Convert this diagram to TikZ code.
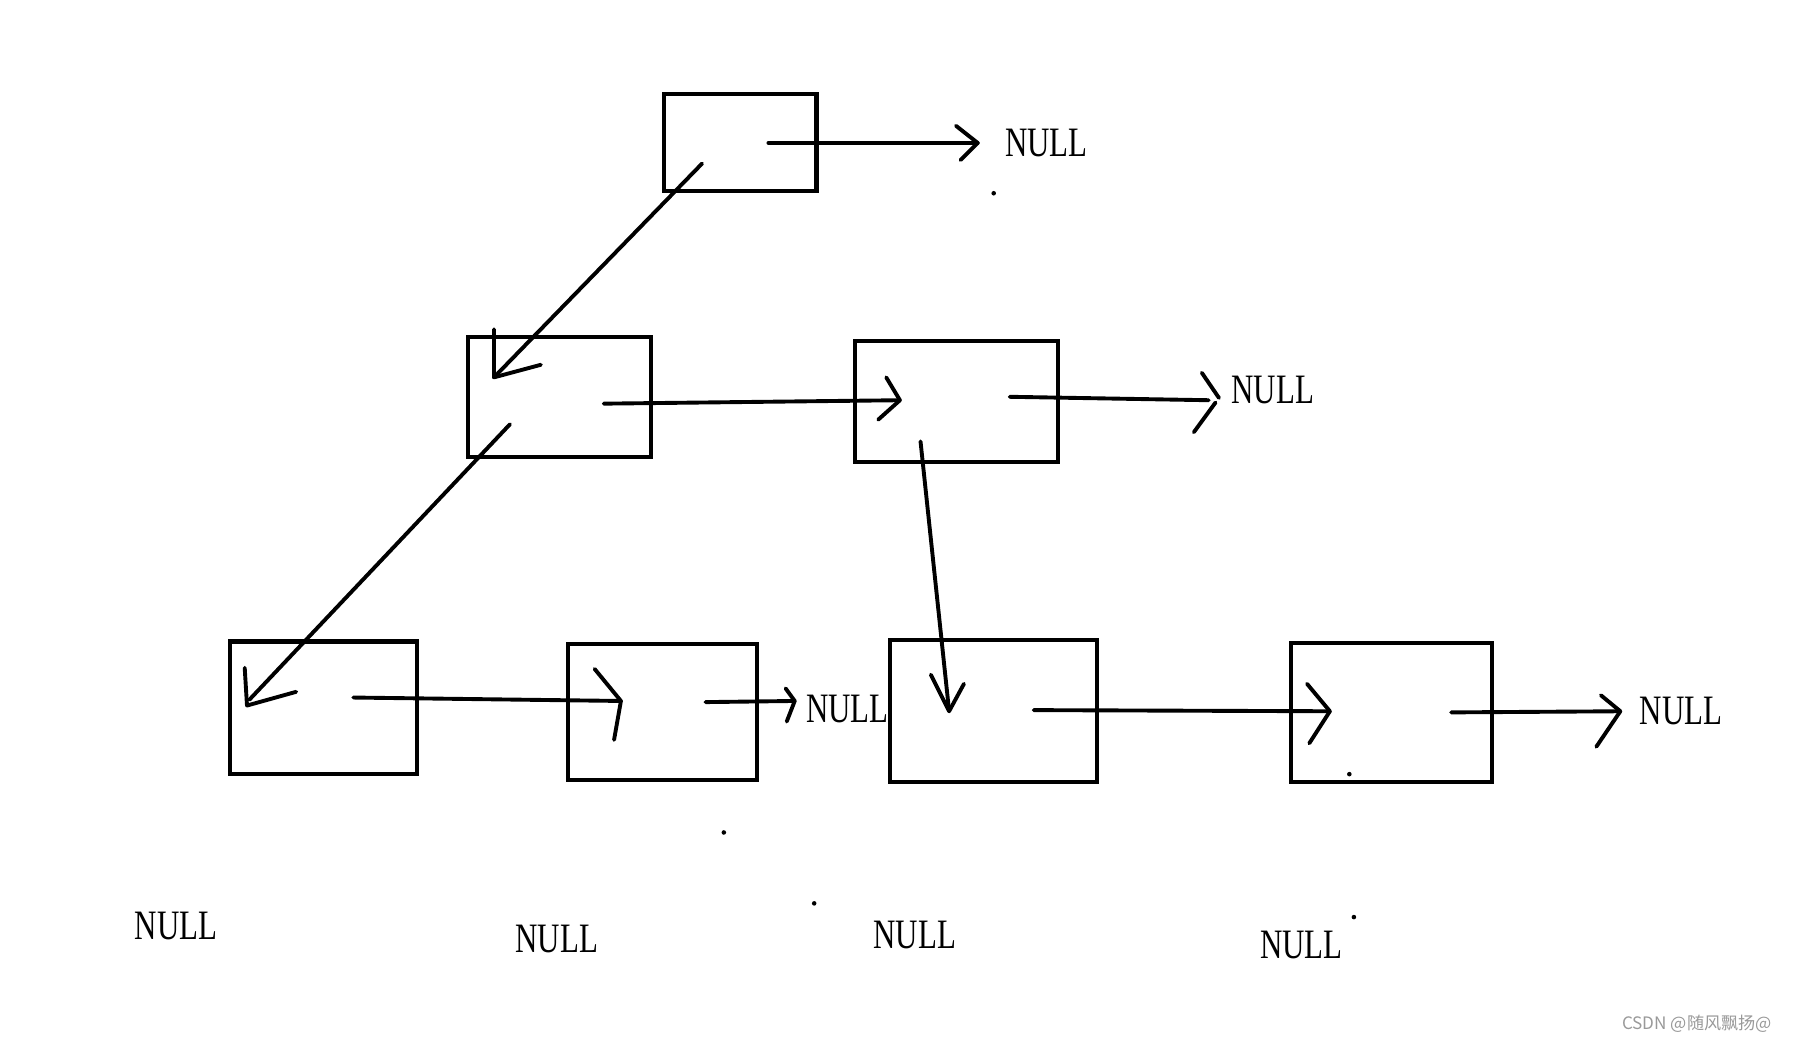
\documentclass[tikz,border=0pt]{standalone}
\usepackage{fontspec}
\usepackage{graphicx}
\setmainfont{Liberation Serif}
\newfontfamily\cjkfont{Noto Sans CJK SC}
\begin{document}
\begin{tikzpicture}[x=1pt,y=-1pt,
  box/.style={draw,line width=3.6pt,rectangle,inner sep=0pt},
  link/.style={line width=3.4pt,line cap=round,line join=round},
  nulltext/.style={inner sep=0pt,font=\fontsize{36.6}{40}\selectfont},
  dotmark/.style={fill,circle,inner sep=0pt,minimum size=4pt}]
\useasboundingbox (0,0) rectangle (1568,912);
% boxes
\node[box,minimum width=133pt,minimum height=85pt] (A) at (647.5,124.5) {};
\node[box,minimum width=160pt,minimum height=105pt] (B) at (489,347.5) {};
\node[box,minimum width=177pt,minimum height=106pt] (C) at (836.5,351) {};
\node[box,minimum width=164pt,minimum height=116pt] (D) at (283,619) {};
\node[box,minimum width=165pt,minimum height=119pt] (E) at (579.5,622.5) {};
\node[box,minimum width=181pt,minimum height=124pt] (F) at (868.5,622) {};
\node[box,minimum width=176pt,minimum height=122pt] (G) at (1217,623) {};
% NULL labels
\newcommand{\nl}{\scalebox{0.74}[1]{NULL}}
\node[nulltext] (nA) at (915,125) {\nl};
\node[nulltext] (nC) at (1113,341) {\nl};
\node[nulltext] (nE) at (741,620) {\nl};
\node[nulltext] (nG) at (1470,622) {\nl};
\node[nulltext] (n1) at (154,810) {\nl};
\node[nulltext] (n2) at (487,821) {\nl};
\node[nulltext] (n3) at (800,818) {\nl};
\node[nulltext] (n4) at (1138,826) {\nl};
% connector end points
\coordinate (a1) at (672,125); \coordinate (a2) at (855,125);
\coordinate (ab1) at (614,143); \coordinate (ab2) at (432,330);
\coordinate (b1) at (528,353); \coordinate (b2) at (787,350);
\coordinate (c1) at (883,347); \coordinate (c2) at (1057,350);
\coordinate (cf1) at (805,386); \coordinate (cf2) at (830,622);
\coordinate (bd1) at (446,371); \coordinate (bd2) at (218,612);
\coordinate (d1) at (309,610); \coordinate (d2) at (543,613);
\coordinate (e1) at (617,614); \coordinate (e2) at (695,613);
\coordinate (f1) at (904,621); \coordinate (f2) at (1163,622);
\coordinate (g1) at (1269,623); \coordinate (g2) at (1417,622);
% shafts
\draw[link] (a1) -- (a2);
\draw[link] (ab1) -- (ab2);
\draw[link] (b1) -- (b2);
\draw[link] (c1) -- (c2);
\draw[link] (cf1) -- (cf2);
\draw[link] (bd1) -- (bd2);
\draw[link] (d1) -- (d2);
\draw[link] (e1) -- (e2);
\draw[link] (f1) -- (f2);
\draw[link] (g1) -- (g2);
% hand-drawn heads
\draw[link] (a2) ++(-19,-15) -- (a2) -- ++(-15,15);
\draw[link] (ab2) ++(0,-42) -- (ab2) -- ++(41,-11);
\draw[link] (b2) ++(-12,-20) -- (b2) -- ++(-19,17);
\draw[link] (c2) ++(-6,-24) -- ++(15,22);
\draw[link] (c2) ++(6,2) -- ++(-19,26);
\draw[link] (cf2) ++(-16,-32) -- (cf2) -- ++(13,-24);
\draw[link] (bd2) ++(-4,-28) -- (216,617) -- ++(43,-12);
\draw[link] (d2) ++(-23,-28) -- (d2) -- ++(-6,34);
\draw[link] (e2) ++(-8,-11) -- (e2) -- ++(-7,18);
\draw[link] (f2) ++(-20,-24) -- (f2) -- ++(-18,28);
\draw[link] (g2) ++(-17,-14) -- (g2) -- ++(-21,31);
% stray dots
\node[dotmark] (dt1) at (869,169) {};
\node[dotmark] (dt2) at (633,728) {};
\node[dotmark] (dt3) at (712,790) {};
\node[dotmark] (dt4) at (1184,802) {};
\node[dotmark] (dt5) at (1180,677) {};
% watermark
\node[inner sep=0pt,text=black!40,font=\cjkfont\fontsize{15}{17}\selectfont] (wm) at (1484,895) {CSDN @随风飘扬@};
\end{tikzpicture}
\end{document}
